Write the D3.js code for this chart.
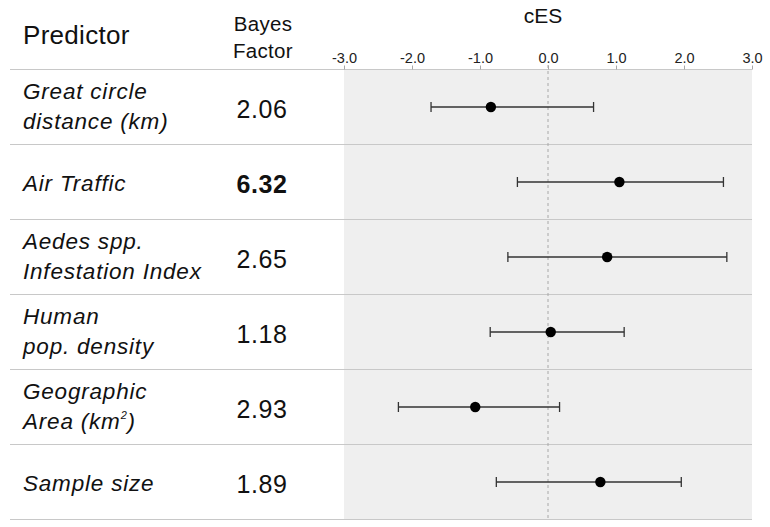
<!DOCTYPE html>
<html>
<head>
<meta charset="utf-8">
<script src="https://cdn.jsdelivr.net/npm/d3@7"></script>
<style>
  html, body { margin: 0; padding: 0; background: #fff; }
  svg { display: block; font-family: "Liberation Sans", Arial, Helvetica, sans-serif; }
</style>
</head>
<body>
<svg id="chart" width="770" height="527"></svg>
<script>
// ---- data ----
const predictorLines = [
  ["Great circle", "distance (km)"],
  ["Air Traffic"],
  ["Aedes spp.", "Infestation Index"],
  ["Human", "pop. density"],
  ["Geographic", "Area (km²)"],
  ["Sample size"]
];
const bayesFactors = ["2.06", "6.32", "2.65", "1.18", "2.93", "1.89"];
const boldRows = [1];
const ces = [-0.84, 1.05, 0.87, 0.04, -1.07, 0.77];
const cesLower = [-1.72, -0.45, -0.59, -0.85, -2.20, -0.76];
const cesUpper = [0.67, 2.58, 2.63, 1.12, 0.17, 1.96];
const tickValues = [-3, -2, -1, 0, 1, 2, 3];

// ---- layout ----
const svg = d3.select("#chart");
const x = d3.scaleLinear().domain([-3, 3]).range([344, 752]);
const y = d3.scaleBand().domain(d3.range(predictorLines.length)).range([69.5, 519.5]).padding(0);
const cy = i => y(i) + y.bandwidth() / 2;

// grey panel
svg.append("rect")
  .attr("x", x(-3)).attr("y", y(0))
  .attr("width", x(3) - x(-3)).attr("height", y.range()[1] - y(0))
  .attr("fill", "#efefef");

// row separators (incl. header line)
const seps = [y(0)].concat(d3.range(predictorLines.length).map(i => y(i) + y.bandwidth()));
svg.append("g").selectAll("line").data(seps).join("line")
  .attr("x1", 10).attr("x2", x(3))
  .attr("y1", d => d).attr("y2", d => d)
  .attr("stroke", "#c8c8c8").attr("stroke-width", 1);

// zero dashed line
svg.append("line")
  .attr("x1", x(0)).attr("x2", x(0))
  .attr("y1", 65).attr("y2", y.range()[1])
  .attr("stroke", "#a8a8a8").attr("stroke-width", 1)
  .attr("stroke-dasharray", "3,3");

// axis
const axis = d3.axisTop(x).tickValues(tickValues).tickFormat(d => d.toFixed(1)).tickSize(4).tickPadding(3);
const ag = svg.append("g").attr("transform", `translate(0,${y(0)})`).call(axis);
ag.select(".domain").remove();
ag.selectAll(".tick line").attr("stroke", "#a8a8a8");
ag.selectAll(".tick text").attr("font-size", 14.5).attr("fill", "#222")
  .attr("font-family", "Liberation Sans, Arial, sans-serif");

// headers
svg.append("text").attr("x", 23).attr("y", 44).attr("font-size", 26).attr("letter-spacing", 0.3).attr("fill", "#111").text("Predictor");
svg.append("text").attr("x", 263).attr("y", 31).attr("text-anchor", "middle").attr("font-size", 20.5).attr("letter-spacing", 0.3).attr("fill", "#111").text("Bayes");
svg.append("text").attr("x", 263).attr("y", 58).attr("text-anchor", "middle").attr("font-size", 20.5).attr("letter-spacing", 0.3).attr("fill", "#111").text("Factor");
svg.append("text").attr("x", 543).attr("y", 23).attr("text-anchor", "middle").attr("font-size", 21).attr("fill", "#111").text("cES");

// predictor labels
const labels = svg.append("g").selectAll("text").data(predictorLines).join("text")
  .attr("font-size", 22.5).attr("font-style", "italic").attr("letter-spacing", 0.8).attr("fill", "#111");
labels.each(function(lines, i) {
  const t = d3.select(this);
  const base = lines.length === 1 ? cy(i) + 8.5 : cy(i) - 8;
  lines.forEach((ln, k) => {
    const ts = t.append("tspan").attr("x", 23).attr("y", base + k * 30);
    if (ln.includes("²")) {
      const parts = ln.split("²");
      ts.text(parts[0]);
      t.append("tspan").attr("font-size", 11).attr("dy", -10).text("2");
      t.append("tspan").attr("dy", 10).text(parts[1]);
    } else {
      ts.text(ln);
    }
  });
});

// Bayes factors
svg.append("g").selectAll("text").data(bayesFactors).join("text")
  .attr("x", 262).attr("y", (d, i) => cy(i) + 11)
  .attr("text-anchor", "middle").attr("font-size", 25).attr("letter-spacing", 0.6)
  .attr("font-weight", (d, i) => boldRows.includes(i) ? "bold" : "normal")
  .attr("fill", "#111")
  .text(d => d);

// error bars
const eb = svg.append("g").selectAll("g").data(ces).join("g");
eb.append("line")
  .attr("x1", (d, i) => x(cesLower[i])).attr("x2", (d, i) => x(cesUpper[i]))
  .attr("y1", (d, i) => cy(i)).attr("y2", (d, i) => cy(i))
  .attr("stroke", "#333").attr("stroke-width", 1.3);
eb.append("line")
  .attr("x1", (d, i) => x(cesLower[i])).attr("x2", (d, i) => x(cesLower[i]))
  .attr("y1", (d, i) => cy(i) - 5).attr("y2", (d, i) => cy(i) + 5)
  .attr("stroke", "#333").attr("stroke-width", 1.3);
eb.append("line")
  .attr("x1", (d, i) => x(cesUpper[i])).attr("x2", (d, i) => x(cesUpper[i]))
  .attr("y1", (d, i) => cy(i) - 5).attr("y2", (d, i) => cy(i) + 5)
  .attr("stroke", "#333").attr("stroke-width", 1.3);
eb.append("circle")
  .attr("cx", d => x(d)).attr("cy", (d, i) => cy(i)).attr("r", 5.2)
  .attr("fill", "#000");
</script>
</body>
</html>
